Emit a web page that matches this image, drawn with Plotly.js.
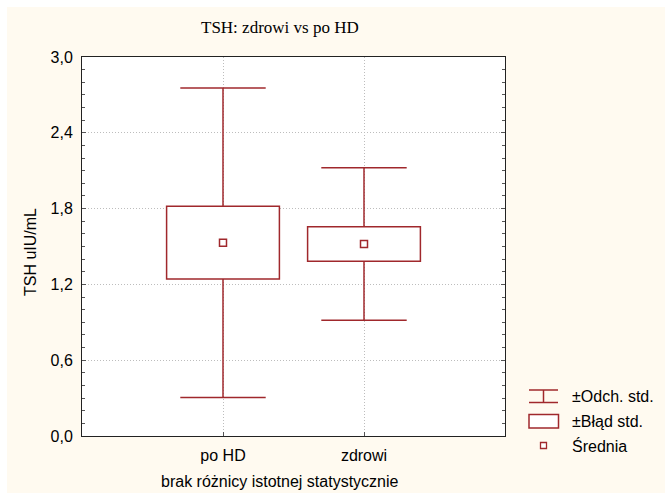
<!DOCTYPE html>
<html>
<head>
<meta charset="utf-8">
<script src="https://cdn.plot.ly/plotly-3.0.1.min.js"></script>
<style>html,body{margin:0;padding:0;background:#fff;}#chart{width:665px;height:493px;}</style>
</head>
<body>
<div id="chart"></div>
<script>
// ---- data ----
const categories = ["po HD", "zdrowi"];
const means = [1.53, 1.52];
const stdDevs = [1.225, 0.603];
const stdErrs = [0.288, 0.137];
const yTickVals = [0, 0.6, 1.2, 1.8, 2.4, 3.0];
const legendLabels = ["\u00b1Odch. std.", "\u00b1B\u0142\u0105d std.", "\u015arednia"];

// ---- derived stats ----
const q1 = means.map((m, i) => m - stdErrs[i]);
const q3 = means.map((m, i) => m + stdErrs[i]);
const lo = means.map((m, i) => m - stdDevs[i]);
const hi = means.map((m, i) => m + stdDevs[i]);
const boxSpan = stdErrs.map(s => 2 * s);

// whisker stems: from box top to +SD and from -SD to box bottom
const stemX = [], stemY = [];
categories.forEach((c, i) => {
  stemX.push(c, c, null, c, c, null);
  stemY.push(q3[i], hi[i], null, lo[i], q1[i], null);
});

const RED = '#a0282c';
const FONT = 'Liberation Sans, Arial, sans-serif';
const FS = 16;

// plot area geometry in pixels (for layout helpers only)
const L = 82, R = 505, T = 57, B = 436;
const px = x => (x - L) / (R - L);
const py = y => (B - y) / (B - T);

const traces = [
  {
    type: 'bar',
    x: categories,
    y: boxSpan,
    base: q1,
    width: 0.8,
    marker: {color: '#ffffff', line: {color: RED, width: 1.5}},
    hoverinfo: 'skip',
    showlegend: false
  },
  {
    type: 'scatter',
    mode: 'lines',
    x: stemX,
    y: stemY,
    line: {color: RED, width: 1.5},
    connectgaps: false,
    hoverinfo: 'skip',
    showlegend: false
  },
  {
    type: 'scatter',
    mode: 'markers',
    x: categories.concat(categories),
    y: hi.concat(lo),
    marker: {symbol: 'line-ew', size: 61, color: RED, line: {width: 1.5, color: RED}},
    hoverinfo: 'skip',
    showlegend: false
  },
  {
    type: 'scatter',
    mode: 'markers',
    x: categories,
    y: means,
    marker: {symbol: 'square-open', size: 7, color: RED, line: {width: 1.5, color: RED}},
    hoverinfo: 'skip',
    showlegend: false
  }
];

const shapes = [
  // white strips at top and left edge
  {type: 'rect', xref: 'paper', yref: 'paper', x0: px(0), x1: px(665), y0: py(0), y1: py(7), fillcolor: '#ffffff', line: {width: 0}, layer: 'below'},
  {type: 'rect', xref: 'paper', yref: 'paper', x0: px(0), x1: px(7), y0: py(0), y1: py(493), fillcolor: '#ffffff', line: {width: 0}, layer: 'below'},
  // legend: whisker icon
  {type: 'line', xref: 'paper', yref: 'paper', x0: px(529), x1: px(558), y0: py(390), y1: py(390), line: {color: RED, width: 1.5}},
  {type: 'line', xref: 'paper', yref: 'paper', x0: px(529), x1: px(558), y0: py(402.5), y1: py(402.5), line: {color: RED, width: 1.5}},
  {type: 'line', xref: 'paper', yref: 'paper', x0: px(543.5), x1: px(543.5), y0: py(390), y1: py(402.5), line: {color: RED, width: 1.5}},
  // legend: box icon
  {type: 'rect', xref: 'paper', yref: 'paper', x0: px(529), x1: px(558.5), y0: py(414.5), y1: py(428), fillcolor: '#ffffff', line: {color: RED, width: 1.5}},
  // legend: mean icon
  {type: 'rect', xref: 'paper', yref: 'paper', x0: px(540.5), x1: px(546.5), y0: py(442.5), y1: py(448.5), fillcolor: '#ffffff', line: {color: RED, width: 1.3}}
];

const legendY = [396, 421, 446];
const annotations = [
  {text: 'TSH: zdrowi vs po HD', xref: 'paper', yref: 'paper', x: px(280), y: py(28), xanchor: 'center', yanchor: 'middle', showarrow: false,
   font: {family: 'Liberation Serif, Times New Roman, serif', size: 17, color: '#000'}},
  {text: 'TSH uIU/mL', xref: 'paper', yref: 'paper', x: px(30), y: py(252), xanchor: 'center', yanchor: 'middle', textangle: -90, showarrow: false,
   font: {family: FONT, size: FS, color: '#000'}},
  {text: 'brak r\u00f3\u017cnicy istotnej statystycznie', xref: 'paper', yref: 'paper', x: px(280), y: py(481), xanchor: 'center', yanchor: 'middle', showarrow: false,
   font: {family: FONT, size: FS, color: '#000'}}
].concat(legendLabels.map((t, i) => ({
  text: t, xref: 'paper', yref: 'paper', x: px(570), y: py(legendY[i]), xanchor: 'left', yanchor: 'middle', showarrow: false,
  font: {family: FONT, size: FS, color: '#000'}
})));

const layout = {
  width: 665,
  height: 493,
  margin: {l: L, r: 665 - R, t: T, b: 493 - B, pad: 0},
  paper_bgcolor: '#fffaf0',
  plot_bgcolor: '#ffffff',
  separators: ',.',
  showlegend: false,
  hovermode: false,
  font: {family: FONT, size: FS, color: '#000'},
  xaxis: {
    type: 'category',
    range: [-1, 2],
    showgrid: true,
    gridcolor: '#bdbdbd',
    griddash: '1px,2px',
    gridwidth: 1,
    ticks: 'inside',
    ticklen: 4,
    tickcolor: '#555',
    showline: true,
    linecolor: '#222',
    linewidth: 1,
    mirror: true,
    zeroline: false,
    ticklabelstandoff: 5,
    tickfont: {family: FONT, size: FS, color: '#000'},
    fixedrange: true
  },
  yaxis: {
    range: [0, 3],
    tickvals: yTickVals,
    tickformat: '.1f',
    showgrid: true,
    gridcolor: '#bdbdbd',
    griddash: '1px,2px',
    gridwidth: 1,
    ticks: 'inside',
    ticklen: 4,
    tickcolor: '#555',
    minor: {dtick: 0.1, tick0: 0, ticks: 'inside', ticklen: 3, tickcolor: '#555', showgrid: false},
    showline: true,
    linecolor: '#222',
    linewidth: 1,
    mirror: 'allticks',
    zeroline: false,
    ticklabelstandoff: 5,
    tickfont: {family: FONT, size: FS, color: '#000'},
    fixedrange: true
  },
  shapes: shapes,
  annotations: annotations
};

Plotly.newPlot('chart', traces, layout, {displayModeBar: false, staticPlot: true});
</script>
</body>
</html>
